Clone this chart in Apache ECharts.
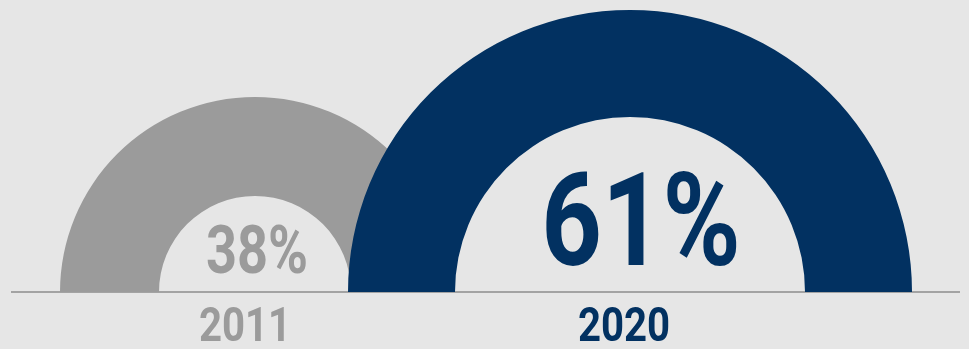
<!doctype html>
<html>
<head>
	<meta charset="UTF-8">
	<title>2011 vs 2020</title>
	<script src="https://cdn.jsdelivr.net/npm/echarts@6/dist/echarts.min.js"></script>
	<style>
		html, body { margin: 0; padding: 0; background: #e6e6e6; }
		#chart { width: 969px; height: 349px; }
	</style>
</head>
<body>
	<div id="chart"></div>
	<script>
		// data
		var years = ['2011', '2020'];
		var shares = [38, 61];
		var colors = ['#9b9b9b', '#023161'];

		// condensed look: Roboto bold squeezed horizontally
		var font = 'Roboto, "Noto Sans", sans-serif';
		var squeeze = 0.82;

		// layout of each half donut
		var centers = [[255, 292], [630, 292]];
		var radii = [[96, 195], [175, 282]];
		var pctPos = [[257, 256], [641, 233]];
		var pctSize = [66, 129];
		var yearPos = [[245, 329], [624, 329]];

		var chart = echarts.init(document.getElementById('chart'));

		var series = years.map(function (y, i) {
			return {
				type: 'pie',
				z: 2 + i,
				center: centers[i],
				radius: radii[i],
				startAngle: 180,
				endAngle: 0,
				clockwise: true,
				silent: true,
				label: { show: false },
				labelLine: { show: false },
				itemStyle: { color: colors[i] },
				data: [{ name: y, value: shares[i] }]
			};
		});

		var graphics = [{
			type: 'line',
			z: 0,
			shape: { x1: 11, y1: 292, x2: 960, y2: 292 },
			style: { stroke: '#a3a3a3', lineWidth: 2 }
		}];

		years.forEach(function (y, i) {
			graphics.push({
				type: 'text',
				z: 10,
				x: pctPos[i][0],
				y: pctPos[i][1],
				scaleX: squeeze,
				style: {
					text: shares[i] + '%',
					fill: colors[i],
					font: 'bold ' + pctSize[i] + 'px ' + font,
					textAlign: 'center',
					textVerticalAlign: 'middle'
				}
			});
			graphics.push({
				type: 'text',
				z: 10,
				x: yearPos[i][0],
				y: yearPos[i][1],
				scaleX: squeeze,
				style: {
					text: y,
					fill: colors[i],
					font: 'bold 49px ' + font,
					textAlign: 'center',
					textVerticalAlign: 'middle'
				}
			});
		});

		chart.setOption({
			backgroundColor: '#e6e6e6',
			animation: false,
			series: series,
			graphic: graphics
		});
	</script>
</body>
</html>
